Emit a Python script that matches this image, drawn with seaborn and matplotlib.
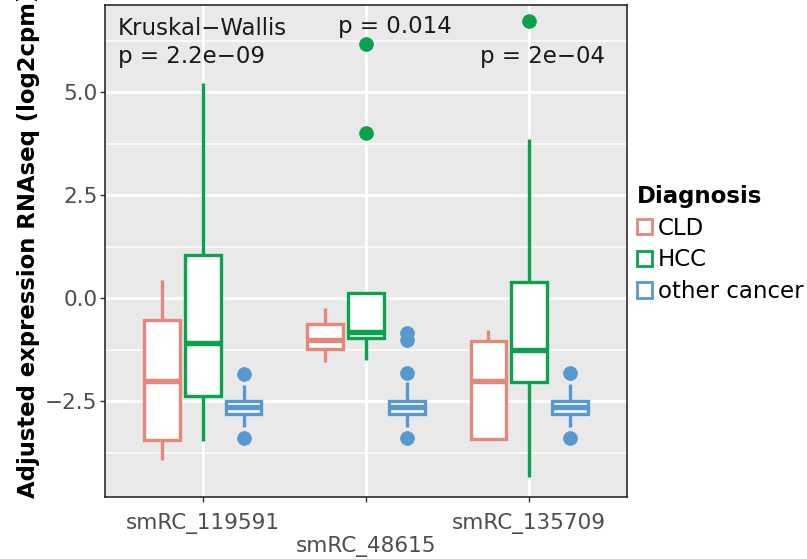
import matplotlib
matplotlib.use("Agg")
import matplotlib.pyplot as plt
from matplotlib.patches import Patch
import pandas as pd
import seaborn as sns

genes = ["smRC_119591", "smRC_48615", "smRC_135709"]
gene_tick_labels = ["smRC_119591", "\nsmRC_48615", "smRC_135709"]
diagnoses = ["CLD", "HCC", "other cancer"]
diagnosis_colors = ["#E4887B", "#0BA24E", "#5799CF"]

# Box summaries per gene: (lower whisker, Q1, median, Q3, upper whisker)
cld_summary = [(-3.92, -3.44, -2.00, -0.53, 0.44),
               (-1.55, -1.24, -1.01, -0.61, -0.23),
               (-3.42, -3.42, -2.01, -1.03, -0.77)]
hcc_summary = [(-3.46, -2.36, -1.08, 1.05, 5.22),
               (-1.50, -0.97, -0.81, 0.14, 0.16),
               (-4.33, -2.04, -1.25, 0.40, 3.88)]
other_summary = [(-3.12, -2.80, -2.64, -2.49, -2.09),
                 (-3.12, -2.80, -2.64, -2.48, -2.02),
                 (-3.12, -2.80, -2.64, -2.49, -2.08)]

# Outlying samples per gene: (below the lower whisker, above the upper whisker)
cld_outliers = [((), ()), ((), ()), ((), ())]
hcc_outliers = [((), ()), ((), (4.02, 6.17)), ((), (6.74,))]
other_outliers = [((-3.40,), (-1.84,)),
                  ((-3.40,), (-1.82, -1.01, -0.85)),
                  ((-3.40,), (-1.82,))]

# Kruskal-Wallis results per gene
test_name = "Kruskal\u2212Wallis"
p_labels = ["p = 2.2e\u221209", "p = 0.014", "p = 2e\u221204"]


def samples_for_box(summary, outliers):
    """Sorted samples whose quartiles, whiskers and fliers equal the summary."""
    lo, q1, med, q3, hi = summary
    out_lo, out_hi = outliers
    m = 1 + max(len(out_lo), len(out_hi))
    lower = list(out_lo) + [lo] + [q1] * (m - 1 - len(out_lo))
    middle = [q1] + [med] * (m - 1) + [med] + [med] * (m - 1) + [q3]
    upper = [q3] * (m - 1 - len(out_hi)) + [hi] + list(out_hi)
    return lower + middle + upper


rows = []
for diag, summaries, outs in zip(diagnoses,
                                 [cld_summary, hcc_summary, other_summary],
                                 [cld_outliers, hcc_outliers, other_outliers]):
    for gene, summ, out in zip(genes, summaries, outs):
        for v in samples_for_box(summ, out):
            rows.append({"gene": gene, "Diagnosis": diag, "value": v})
df = pd.DataFrame(rows)

fig = plt.figure(figsize=(8.07, 5.59), dpi=100)
ax = fig.add_axes([105 / 807, 62 / 559, 522 / 807, 492 / 559])

palette = dict(zip(diagnoses, diagnosis_colors))
for diag, col in zip(diagnoses, diagnosis_colors):
    sub = df[df["Diagnosis"] == diag]
    sns.boxplot(data=sub, x="gene", y="value", hue="Diagnosis",
                order=genes, hue_order=diagnoses, palette=palette,
                width=0.75, gap=0.13, dodge=True, fill=True,
                linecolor=col, linewidth=2.4, legend=False,
                boxprops={"facecolor": "white"},
                medianprops={"linewidth": 3.9},
                capprops={"visible": False},
                fliersize=10,
                flierprops={"marker": "o", "markerfacecolor": col,
                            "markeredgecolor": col, "markersize": 10,
                            "markeredgewidth": 0.5},
                ax=ax)

ax.set_xlim(-0.6, 2.6)
ax.set_ylim(-4.82, 7.12)
ax.set_facecolor("#E9E9E9")
ax.set_axisbelow(True)

ax.set_yticks([-2.5, 0.0, 2.5, 5.0])
ax.set_yticks([-3.75, -1.25, 1.25, 3.75, 6.25], minor=True)
ax.set_xticks([0, 1, 2])
ax.set_xticklabels(gene_tick_labels)
ax.grid(which="major", axis="both", color="white", linewidth=2.0)
ax.grid(which="minor", axis="y", color="white", linewidth=1.1)
ax.tick_params(which="minor", length=0)
ax.tick_params(which="major", length=3.5, width=1.0, color="#333333",
               labelsize=15.5, labelcolor="#4D4D4D")
ax.tick_params(axis="y", pad=2)
ax.tick_params(axis="x", pad=8)
ax.set_xlabel("")
ax.set_ylabel("")
for sp in ax.spines.values():
    sp.set_color("#1A1A1A")
    sp.set_linewidth(1.1)

fig.text(29 / 807, (559 - 498) / 559, "Adjusted expression RNAseq (log2cpm)",
         rotation=90, ha="center", va="bottom", fontsize=16.4,
         fontweight="bold", color="black")

# Kruskal-Wallis annotations
ax.text(-0.52, 6.38, test_name, ha="left", va="baseline", fontsize=16.5,
        color="#1A1A1A")
ax.text(-0.52, 5.71, p_labels[0], ha="left", va="baseline", fontsize=16.5,
        color="#1A1A1A")
ax.text(0.827, 6.44, p_labels[1], ha="left", va="baseline", fontsize=16.5,
        color="#1A1A1A")
ax.text(1.70, 5.71, p_labels[2], ha="left", va="baseline", fontsize=16.5,
        color="#1A1A1A")

handles = [Patch(facecolor="white", edgecolor=c, linewidth=2.0)
           for c in diagnosis_colors]
leg = ax.legend(handles, diagnoses, title="Diagnosis", loc="upper left",
                bbox_to_anchor=(630 / 807, 1 - 178 / 559),
                bbox_transform=fig.transFigure, frameon=False,
                fontsize=16.5, alignment="left",
                title_fontproperties={"weight": "bold", "size": 16.5},
                handlelength=0.65, handleheight=0.65, handletextpad=0.25,
                labelspacing=0.38, borderpad=0.3, borderaxespad=0)

fig.savefig("out.png", dpi=100)
